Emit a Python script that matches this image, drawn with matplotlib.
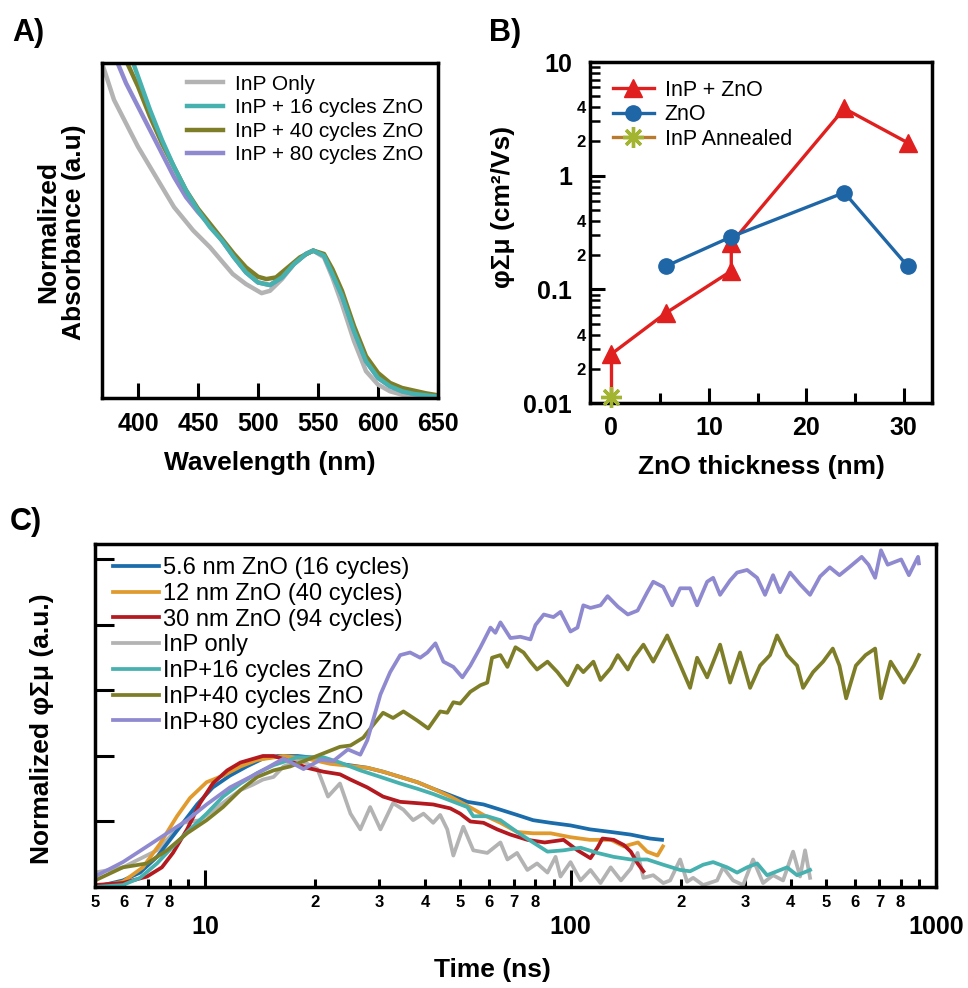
"""Three-panel figure: InP/ZnO absorbance, mobility vs ZnO thickness, TRMC transients."""

import matplotlib

matplotlib.use("Agg")
import matplotlib.pyplot as plt
from matplotlib.ticker import FixedLocator, FuncFormatter, LogLocator, NullLocator
import math

# ---------------- panel A: normalized absorbance ----------------
A_WL_INP = [370, 380, 390, 400, 410, 420, 430, 446, 460, 479, 490, 503, 510, 520, 530, 540, 546,
            555, 562, 570, 580, 590, 600, 610, 620, 635, 650]
A_ABS_INP = [1.0, 0.89, 0.82, 0.75, 0.69, 0.63, 0.57, 0.50, 0.45, 0.37, 0.34, 0.313, 0.32, 0.355, 0.40,
             0.43, 0.44, 0.42, 0.36, 0.28, 0.17, 0.08, 0.04, 0.02, 0.01, 0.005, 0.003]

A_WL_16 = [396, 400, 410, 420, 430, 440, 450, 460, 470, 480, 490, 500, 510, 520, 530, 540, 546,
           555, 562, 570, 580, 590, 600, 610, 620, 630, 640, 650]
A_ABS_16 = [1.0, 0.96, 0.86, 0.77, 0.69, 0.62, 0.56, 0.51, 0.47, 0.42, 0.375, 0.345, 0.337, 0.36,
            0.40, 0.43, 0.44, 0.425, 0.37, 0.305, 0.20, 0.11, 0.06, 0.035, 0.02, 0.012, 0.008, 0.004]

A_WL_40 = [391, 400, 410, 420, 430, 440, 450, 460, 470, 480, 490, 500, 507, 515, 525, 535, 546,
           555, 562, 570, 580, 590, 600, 610, 620, 630, 640, 650]
A_ABS_40 = [1.0, 0.93, 0.84, 0.76, 0.69, 0.62, 0.565, 0.52, 0.475, 0.43, 0.39, 0.362, 0.355, 0.36,
            0.39, 0.42, 0.44, 0.43, 0.385, 0.32, 0.215, 0.125, 0.075, 0.045, 0.03, 0.022, 0.014, 0.008]

A_WL_80 = [383, 390, 400, 410, 420, 430, 440, 450, 460, 470, 480, 490, 500, 510, 520, 530, 540,
           546, 555, 562, 570, 580, 590, 600, 610, 620, 630, 640, 650]
A_ABS_80 = [1.0, 0.94, 0.87, 0.80, 0.73, 0.66, 0.60, 0.555, 0.515, 0.47, 0.42, 0.375, 0.345, 0.337,
            0.36, 0.40, 0.43, 0.44, 0.425, 0.37, 0.305, 0.20, 0.11, 0.06, 0.035, 0.02, 0.012, 0.008, 0.004]

A_XTICKS = [400, 450, 500, 550, 600, 650]

# ---------------- panel B: mobility vs ZnO thickness ----------------
B_THICK_INP_ZNO = [0, 5.6, 12.3, 12.3, 23.9, 30.4]
B_MOB_INP_ZNO = [0.027, 0.062, 0.145, 0.255, 3.9, 1.95]
B_THICK_ZNO = [5.6, 12.3, 23.9, 30.4]
B_MOB_ZNO = [0.16, 0.29, 0.71, 0.16]
B_THICK_ANNEALED = [0]
B_MOB_ANNEALED = [0.0114]

# ---------------- panel C: normalized photoconductance transients ----------------
C_T_5NM = [5.0, 5.96, 6.64, 7.39, 8.02, 8.71, 9.51, 10.5, 11.7, 13.0, 14.4, 15.8, 17.9, 21.0, 23.4,
           27.8, 30.7, 34.2, 38.1, 42.1, 46.9, 52.2, 57.8, 64.3, 71.4, 79.0, 88.2, 100, 113, 129,
           146, 165, 178]
C_Y_5NM = [0.0, 0.05, 0.11, 0.23, 0.36, 0.49, 0.63, 0.76, 0.85, 0.92, 0.98, 1.0, 1.0, 0.98, 0.94,
           0.91, 0.88, 0.84, 0.80, 0.75, 0.70, 0.65, 0.63, 0.59, 0.55, 0.51, 0.49, 0.47, 0.44, 0.42,
           0.40, 0.37, 0.36]

C_T_12NM = [5.0, 5.96, 6.76, 7.53, 8.38, 9.10, 10.1, 11.2, 12.5, 13.9, 16.4, 19.0, 22.0, 27.8, 30.7,
            34.2, 38.1, 42.1, 46.9, 52.2, 57.8, 64.3, 71.4, 79.0, 88.2, 100, 113, 129, 140, 153,
            162, 173, 179]
C_Y_12NM = [0.0, 0.04, 0.15, 0.33, 0.54, 0.68, 0.80, 0.85, 0.92, 0.97, 1.0, 0.98, 0.94, 0.91, 0.88,
            0.84, 0.80, 0.75, 0.69, 0.62, 0.55, 0.49, 0.42, 0.41, 0.41, 0.38, 0.36, 0.36, 0.31, 0.34,
            0.27, 0.24, 0.31]

C_T_30NM = [5.0, 5.96, 6.94, 7.62, 8.17, 8.93, 9.69, 10.5, 11.5, 12.5, 14.4, 15.4, 17.1, 19.0, 21.1,
            23.4, 25.0, 27.8, 30.7, 34.2, 38.1, 42.1, 46.9, 49.9, 53.2, 57.8, 63.0, 68.5, 76.2, 85.0,
            95.7, 104.5, 113.4, 118.5, 122.3, 131.3, 140.0, 146.2, 152.6, 158.3]
C_Y_30NM = [0.015, 0.03, 0.08, 0.15, 0.26, 0.44, 0.64, 0.79, 0.89, 0.95, 1.0, 1.0, 0.96, 0.91, 0.88,
            0.86, 0.82, 0.76, 0.69, 0.65, 0.64, 0.63, 0.60, 0.56, 0.50, 0.49, 0.44, 0.40, 0.36, 0.34,
            0.36, 0.28, 0.22, 0.30, 0.37, 0.36, 0.32, 0.27, 0.18, 0.12]

C_T_INP = [5.0, 5.96, 7.39, 8.71, 9.69, 10.8, 12.5, 13.5, 14.4, 15.4, 16.4, 18.2, 20.3, 21.7, 23.4,
           25.0, 26.6, 28.3, 30.2, 32.7, 34.9, 37.1, 39.6, 42.1, 44.0, 46.0, 47.8, 50.9, 54.2, 59.2,
           64.3, 67.2, 71.4, 76.2, 81.0, 86.5, 91.0, 93.9, 100, 106.5, 113.4, 120.8, 128.8, 137.4,
           146.2, 152.6, 158.3, 168.4, 179.4, 187.3, 199.5, 208.4, 216.5, 230.6, 251.8, 261.5, 278.5,
           296.6, 315.9, 336.4, 358.2, 381.6, 406.4, 424.7, 438.3, 452.3]
C_Y_INP = [0.11, 0.15, 0.28, 0.49, 0.51, 0.61, 0.74, 0.78, 0.82, 0.84, 0.92, 0.97, 0.90, 0.69, 0.79,
           0.56, 0.44, 0.61, 0.44, 0.64, 0.59, 0.51, 0.56, 0.49, 0.55, 0.44, 0.24, 0.46, 0.28, 0.26,
           0.34, 0.21, 0.26, 0.13, 0.18, 0.11, 0.23, 0.08, 0.19, 0.05, 0.13, 0.03, 0.15, 0.05,
           0.14, 0.26, 0.07, 0.09, 0.03, 0.05, 0.21, 0.04, 0.07, 0.015, 0.05, 0.15, 0.05,
           0.015, 0.21, 0.03, 0.09, 0.05, 0.27, 0.08, 0.28, 0.07]

C_T_INP16 = [5.0, 5.96, 6.64, 7.39, 8.17, 9.10, 10.1, 11.2, 12.5, 13.9, 15.4, 17.9, 21.1, 23.4, 26.6,
             30.2, 34.2, 38.1, 42.1, 46.9, 52.2, 54.2, 59.2, 64.3, 71.4, 79.0, 86.5, 95.7, 106.5,
             118.5, 131.3, 146.2, 162.2, 179.4, 199.5, 212.4, 230.6, 245.6, 268.2, 285.6, 304.2,
             324.0, 344.9, 367.4, 391.3, 416.8, 443.8, 452.3]
C_Y_INP16 = [0.0, 0.015, 0.07, 0.18, 0.31, 0.44, 0.56, 0.69, 0.79, 0.87, 0.93, 0.99, 0.99, 0.95, 0.89,
             0.84, 0.79, 0.75, 0.71, 0.66, 0.61, 0.54, 0.54, 0.51, 0.42, 0.34, 0.27, 0.28, 0.30,
             0.26, 0.23, 0.21, 0.21, 0.17, 0.13, 0.12, 0.17, 0.19, 0.15, 0.11, 0.15,
             0.18, 0.09, 0.12, 0.15, 0.09, 0.12, 0.13]

C_T_INP40 = [5.0, 5.96, 6.94, 7.87, 8.93, 10.1, 11.2, 12.5, 13.9, 15.4, 17.1, 19.8, 23.4, 25.0, 27.1,
             28.9, 30.7, 32.7, 34.9, 38.1, 40.8, 44.0, 46.0, 47.8, 49.9, 53.2, 56.7, 59.2, 61.0, 64.3,
             67.2, 70.7, 74.4, 77.7, 81.0, 86.5, 92.1, 98.2, 104.5, 108.4, 115.5, 120.8, 128.8, 134.7,
             143.5, 149.0, 158.3, 168.4, 183.9, 195.7, 212.4, 222.0, 236.5, 256.6, 273.3, 291.1,
             310.0, 330.1, 351.5, 367.4, 391.3, 416.8, 432.8, 460.9, 491.0, 521.9, 544.3, 567.8,
             603.6, 641.5, 681.5, 707.1, 751.4, 817.0, 870.0, 898.0]
C_Y_INP40 = [0.05, 0.15, 0.18, 0.28, 0.41, 0.51, 0.61, 0.74, 0.84, 0.89, 0.92, 0.99, 1.07, 1.08, 1.14,
             1.24, 1.33, 1.29, 1.34, 1.27, 1.21, 1.34, 1.33, 1.41, 1.40, 1.49, 1.54, 1.56, 1.75, 1.77,
             1.68, 1.83, 1.79, 1.72, 1.66, 1.72, 1.64, 1.54, 1.69, 1.64, 1.72, 1.58, 1.67, 1.77,
             1.66, 1.75, 1.85, 1.72, 1.92, 1.75, 1.52, 1.75, 1.60, 1.85, 1.56, 1.79,
             1.52, 1.69, 1.77, 1.92, 1.77, 1.69, 1.52, 1.64, 1.72, 1.82, 1.69, 1.44,
             1.69, 1.77, 1.82, 1.44, 1.72, 1.56, 1.69, 1.77]

C_T_INP80 = [5.0, 5.96, 6.94, 7.87, 8.93, 10.1, 11.7, 13.3, 14.8, 16.4, 18.6, 20.7, 22.4, 24.6, 26.6,
             27.8, 30.2, 32.1, 34.2, 36.4, 38.8, 40.6, 42.7, 44.9, 47.8, 50.6, 53.2, 56.7, 60.4, 62.3,
             64.3, 68.5, 72.9, 77.7, 80.2, 84.5, 89.8, 93.9, 100, 104.5, 108.4, 113.4, 120.8, 126.3,
             134.7, 143.5, 152.6, 162.2, 168.4, 179.4, 189.7, 199.5, 212.4, 222.0, 236.5, 245.6,
             256.6, 273.3, 285.6, 304.2, 324.0, 340.6, 358.2, 374.4, 398.8, 424.7, 452.3, 481.7,
             512.1, 544.3, 578.7, 626.1, 653.8, 681.5, 707.1, 737.5, 803.0, 843.0, 893.0, 898.0]
C_Y_INP80 = [0.08, 0.19, 0.31, 0.41, 0.51, 0.63, 0.76, 0.84, 0.91, 0.98, 0.90, 0.97, 0.96, 1.05, 1.01,
             1.12, 1.47, 1.64, 1.77, 1.79, 1.75, 1.79, 1.86, 1.72, 1.68, 1.60, 1.69, 1.83, 1.98, 1.94,
             2.02, 1.90, 1.91, 1.89, 2.00, 2.08, 2.06, 2.10, 1.95, 1.98, 2.15, 2.13, 2.15, 2.22,
             2.14, 2.08, 2.11, 2.25, 2.33, 2.29, 2.15, 2.28, 2.28, 2.15, 2.33, 2.36,
             2.23, 2.34, 2.40, 2.42, 2.36, 2.23, 2.38, 2.25, 2.40, 2.31, 2.23, 2.37,
             2.44, 2.38, 2.44, 2.52, 2.46, 2.36, 2.57, 2.46, 2.50, 2.38, 2.52, 2.47]

C_YTICKS = [0.5, 1.0, 1.5, 2.0, 2.5]

_GRAY = "#b3b3b3"
_TEAL = "#47b1af"
_OLIVE = "#7f7e28"
_PURPLE = "#8f8ad0"
_RED = "#e0201e"
_BLUE = "#1f66a6"
_STAR = "#a3b530"
_BROWN = "#b87a2c"
_C_BLUE = "#1b6cab"
_C_ORANGE = "#e19a2d"
_C_RED = "#b3191e"

SPINE_W = 2.5
TICK_W = 2.2


def _apply_style() -> None:
    plt.rcParams.update({
        "font.family": ["Liberation Sans", "DejaVu Sans"],
        "font.weight": "bold",
        "axes.linewidth": SPINE_W,
        "figure.facecolor": "white",
        "savefig.facecolor": "white",
    })


def _legend_font(size: float) -> dict:
    return {"family": ["Liberation Sans", "DejaVu Sans"], "weight": "normal", "size": size}


def _px(fig: plt.Figure, x: float, y: float) -> tuple[float, float]:
    w, h = fig.get_size_inches() * fig.dpi
    return x / w, 1.0 - y / h


def render_absorbance(fig: plt.Figure) -> None:
    ax = fig.add_axes([102 / 968, 1 - 398 / 988, 336 / 968, 335 / 988])
    ax.plot(A_WL_INP, A_ABS_INP, color=_GRAY, lw=3.2, label="InP Only")
    ax.plot(A_WL_80, A_ABS_80, color=_PURPLE, lw=3.2, label="InP + 80 cycles ZnO")
    ax.plot(A_WL_40, A_ABS_40, color=_OLIVE, lw=3.2, label="InP + 40 cycles ZnO")
    ax.plot(A_WL_16, A_ABS_16, color=_TEAL, lw=3.2, label="InP + 16 cycles ZnO")
    ax.set_xlim(370, 650)
    ax.set_ylim(0, 1.0)
    ax.set_xticks(A_XTICKS)
    ax.set_yticks([])
    ax.tick_params(axis="x", direction="in", length=11, width=TICK_W, labelsize=18, pad=10)
    handles, labels = ax.get_legend_handles_labels()
    order = [0, 3, 2, 1]
    ax.legend([handles[i] for i in order], [labels[i] for i in order], loc="upper left",
              bbox_to_anchor=(0.253, 0.965), frameon=False, borderpad=0, borderaxespad=0,
              handlelength=1.75, handletextpad=0.55, labelspacing=0.22, prop=_legend_font(15))
    fig.text(*_px(fig, 270, 463), "Wavelength (nm)", ha="center", va="center", fontsize=19)
    fig.text(*_px(fig, 61, 232), "Normalized\nAbsorbance (a.u)", ha="center", va="center",
             rotation=90, fontsize=19, linespacing=1.1, multialignment="center")
    fig.text(*_px(fig, 28, 33), "A)", ha="center", va="center", fontsize=22)


def render_mobility(fig: plt.Figure) -> None:
    ax = fig.add_axes([590 / 968, 1 - 403 / 988, 342 / 968, 341 / 988])
    ax.plot([B_THICK_ANNEALED[0], B_THICK_INP_ZNO[0]], [B_MOB_ANNEALED[0], B_MOB_INP_ZNO[0]],
            color=_RED, lw=2.4)
    ax.plot(B_THICK_INP_ZNO, B_MOB_INP_ZNO, "-^", color=_RED, lw=2.4, ms=13, label="InP + ZnO")
    ax.plot(B_THICK_ZNO, B_MOB_ZNO, "-o", color=_BLUE, lw=2.4, ms=11, label="ZnO")
    ax.plot(B_THICK_ANNEALED, B_MOB_ANNEALED, "-", color=_BROWN, lw=2.4, marker=(8, 2, 0), ms=15,
            mec=_STAR, mew=2.4, label="InP Annealed", clip_on=False, zorder=5)
    ax.set_yscale("log")
    ax.set_xlim(-2.2, 32.9)
    ax.set_ylim(0.01, 10)
    ax.xaxis.set_major_locator(FixedLocator([0, 10, 20, 30]))
    ax.xaxis.set_minor_locator(FixedLocator([5, 15, 25]))
    ax.yaxis.set_major_locator(LogLocator(base=10))
    ax.yaxis.set_minor_locator(LogLocator(base=10, subs=range(2, 10)))
    ax.yaxis.set_major_formatter(FuncFormatter(lambda v, _: f"{v:g}"))

    def _minor(v, _):
        m = v / 10 ** math.floor(math.log10(v) + 1e-9)
        return str(int(round(m))) if int(round(m)) in (2, 4) else ""

    ax.yaxis.set_minor_formatter(FuncFormatter(_minor))
    ax.tick_params(axis="x", which="major", direction="in", length=11, width=TICK_W, labelsize=18, pad=9)
    ax.tick_params(axis="x", which="minor", direction="in", length=7, width=TICK_W)
    ax.tick_params(axis="y", which="major", direction="in", length=11, width=TICK_W, labelsize=18, pad=13)
    ax.tick_params(axis="y", which="minor", direction="in", length=7, width=1.8, labelsize=12, pad=3)
    ax.legend(loc="upper left", bbox_to_anchor=(0.067, 0.948), frameon=False, borderpad=0,
              borderaxespad=0, handlelength=1.9, handletextpad=0.5, labelspacing=0.16,
              prop=_legend_font(15.5))
    fig.text(*_px(fig, 761, 467), "ZnO thickness (nm)", ha="center", va="center", fontsize=19)
    fig.text(*_px(fig, 503, 207), "φΣμ (cm²/Vs)", ha="center", va="center", rotation=90, fontsize=19)
    fig.text(*_px(fig, 505, 33), "B)", ha="center", va="center", fontsize=22)


def render_transients(fig: plt.Figure) -> None:
    ax = fig.add_axes([95 / 968, 1 - 887 / 988, 841 / 968, 343 / 988])
    kw = {"lw": 2.7}
    ax.plot(C_T_INP, C_Y_INP, color=_GRAY, label="InP only", **kw)
    ax.plot(C_T_5NM, C_Y_5NM, color=_C_BLUE, label="5.6 nm ZnO (16 cycles)", **kw)
    ax.plot(C_T_12NM, C_Y_12NM, color=_C_ORANGE, label="12 nm ZnO (40 cycles)", **kw)
    ax.plot(C_T_30NM, C_Y_30NM, color=_C_RED, label="30 nm ZnO (94 cycles)", **kw)
    ax.plot(C_T_INP16, C_Y_INP16, color=_TEAL, label="InP+16 cycles ZnO", **kw)
    ax.plot(C_T_INP40, C_Y_INP40, color=_OLIVE, label="InP+40 cycles ZnO", **kw)
    ax.plot(C_T_INP80, C_Y_INP80, color=_PURPLE, label="InP+80 cycles ZnO", **kw)
    ax.set_xscale("log")
    ax.set_xlim(5, 1000)
    ax.set_ylim(0, 2.618)
    ax.yaxis.set_major_locator(FixedLocator(C_YTICKS))
    ax.yaxis.set_minor_locator(NullLocator())
    ax.set_yticklabels([])
    ax.xaxis.set_major_locator(LogLocator(base=10))
    ax.xaxis.set_minor_locator(LogLocator(base=10, subs=range(2, 10)))
    ax.xaxis.set_major_formatter(FuncFormatter(lambda v, _: f"{v:g}"))

    def _minor(v, _):
        m = int(round(v / 10 ** math.floor(math.log10(v) + 1e-9)))
        return str(m) if 2 <= m <= 8 else ""

    ax.xaxis.set_minor_formatter(FuncFormatter(_minor))
    ax.tick_params(axis="x", which="major", direction="in", length=12, width=TICK_W, labelsize=18, pad=20)
    ax.tick_params(axis="x", which="minor", direction="in", length=6, width=TICK_W, labelsize=12, pad=6)
    ax.tick_params(axis="y", which="major", direction="in", length=14, width=TICK_W)
    handles, labels = ax.get_legend_handles_labels()
    order = [1, 2, 3, 0, 4, 5, 6]
    ax.legend([handles[i] for i in order], [labels[i] for i in order], loc="upper left",
              bbox_to_anchor=(0.0214, 0.962), frameon=False, borderpad=0, borderaxespad=0,
              handlelength=1.95, handletextpad=0.15, labelspacing=0.16, prop=_legend_font(17))
    fig.text(*_px(fig, 492, 970), "Time (ns)", ha="center", va="center", fontsize=19)
    fig.text(*_px(fig, 42, 729), "Normalized φΣμ (a.u.)", ha="center", va="center", rotation=90,
             fontsize=19)
    fig.text(*_px(fig, 26, 522), "C)", ha="center", va="center", fontsize=22)


def main() -> None:
    _apply_style()
    fig = plt.figure(figsize=(9.68, 9.88), dpi=100)
    render_absorbance(fig)
    render_mobility(fig)
    render_transients(fig)
    fig.savefig("out.png", dpi=100)
    plt.close(fig)


if __name__ == "__main__":
    main()
